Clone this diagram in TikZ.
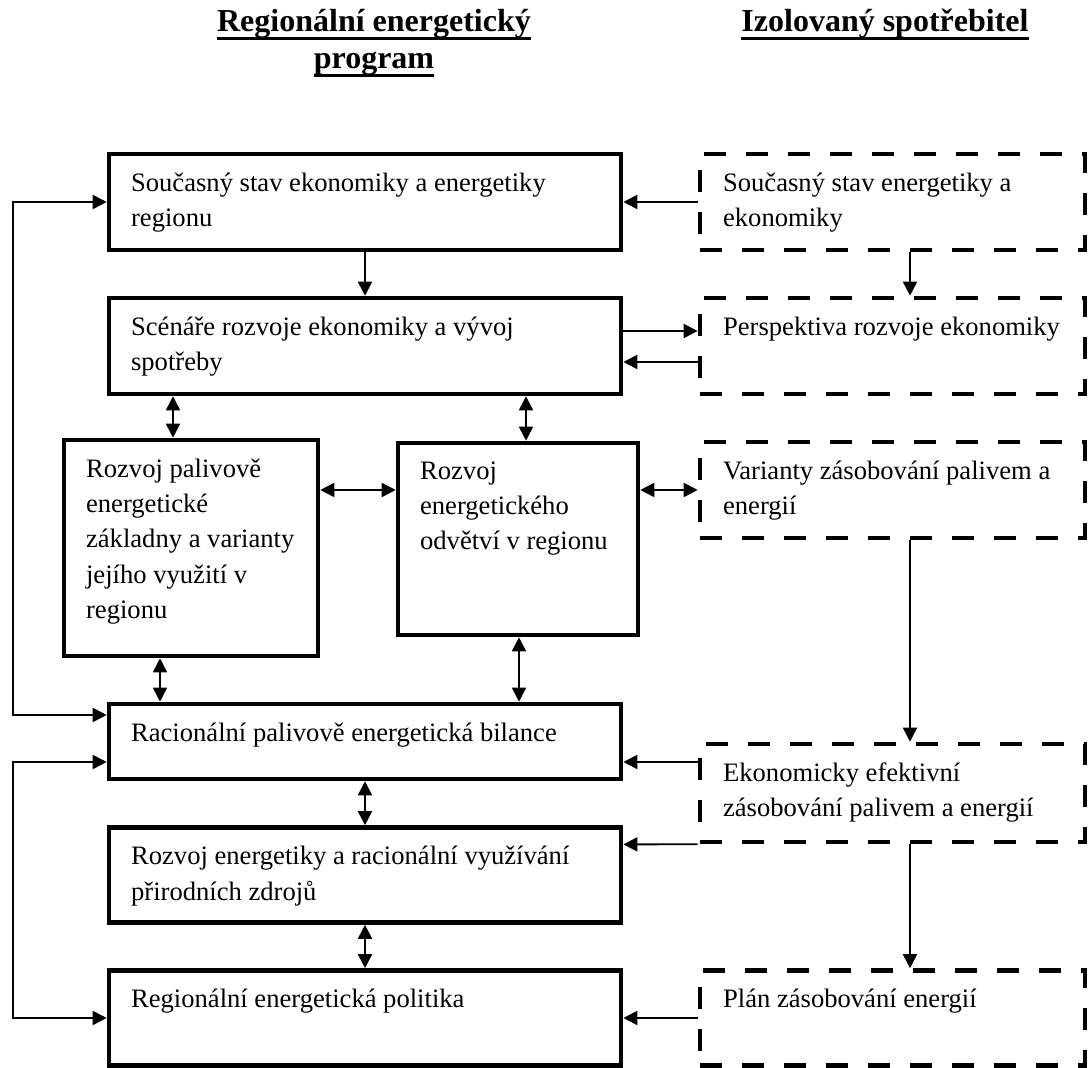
\documentclass[tikz,border=0pt]{standalone}
\usepackage{fontspec}
\setmainfont{Liberation Serif}
\usepackage{tikz}
\usetikzlibrary{positioning,calc,arrows.meta}
\tikzset{
  basic/.style  = {draw, inner sep=0pt, line width=2.3pt},
  lbox/.style   = {basic},
  rbox/.style   = {basic, dash pattern=on 11pt off 10pt},
  txt/.style    = {inner sep=0pt, align=flush left,
                   font=\fontsize{13.3pt}{17.6pt}\selectfont},
  head/.style   = {inner sep=0pt, anchor=base,
                   font=\fontsize{16pt}{19pt}\selectfont\bfseries},
  tip/.style    = {>={Triangle[length=7pt,width=7pt]}},
  edge/.style   = {->, tip, line width=0.9pt},
  edges/.style  = {<->, tip, line width=0.9pt}
}
\newcommand{\hd}[1]{\setbox0=\hbox{#1}\makebox[0pt][l]{\rule[-4pt]{\wd0}{1.5pt}}\box0}

\begin{document}
\begin{tikzpicture}[x=0.5pt, y=-0.5pt]
  \useasboundingbox (0,0) rectangle (1088,1068);
  \node[head] (hreg) at (374,32) {\hd{Regionální energetický}};
  \node[head] (hprog) at (374,69) {\hd{program}};
  \node[head] (hizo) at (885,32) {\hd{Izolovaný spotřebitel}};

  \node[lbox, minimum width=256pt, minimum height=48pt] (stav) at (365,202) {};
  \node[lbox, minimum width=256pt, minimum height=48pt] (scen) at (365,346) {};
  \node[lbox, minimum width=127pt, minimum height=108pt] (palivo) at (191,548) {};
  \node[lbox, minimum width=120pt, minimum height=96pt] (odvetvi) at (518,539) {};
  \node[lbox, minimum width=256pt, minimum height=37.5pt] (bilance) at (365,741.5) {};
  \node[lbox, minimum width=256pt, minimum height=47.5pt] (rozvoj) at (365,875) {};
  \node[lbox, minimum width=256pt, minimum height=47.5pt] (politika) at (365,1018) {};

  \node[rbox, minimum width=192.5pt, minimum height=48pt] (istav) at (892.5,202) {};
  \node[rbox, minimum width=192.5pt, minimum height=48pt] (persp) at (892.5,346) {};
  \node[rbox, minimum width=192.5pt, minimum height=48pt] (varianty) at (892.5,490) {};
  \node[rbox, minimum width=192.5pt, minimum height=49pt] (efekt) at (892.5,793) {};
  \node[rbox, minimum width=192.5pt, minimum height=47.5pt] (plan) at (892.5,1018) {};

  \node[txt, text width=225pt, below right=10.4pt and 12pt of stav.north west] (stav-t)
    {Současný stav ekonomiky a energetiky regionu};
  \node[txt, text width=225pt, below right=10.4pt and 12pt of scen.north west] (scen-t)
    {Scénáře rozvoje ekonomiky a vývoj spotřeby};
  \node[txt, text width=110pt, below right=10.4pt and 12pt of palivo.north west] (palivo-t)
    {Rozvoj palivově energetické základny a varianty jejího využití v regionu};
  \node[txt, text width=100pt, below right=10.4pt and 12pt of odvetvi.north west] (odvetvi-t)
    {Rozvoj energetického odvětví v regionu};
  \node[txt, text width=225pt, below right=10.4pt and 12pt of bilance.north west] (bilance-t)
    {Racionální palivově energetická bilance};
  \node[txt, text width=225pt, below right=10.4pt and 12pt of rozvoj.north west] (rozvoj-t)
    {Rozvoj energetiky a racionální využívání přirodních zdrojů};
  \node[txt, text width=225pt, below right=10.4pt and 12pt of politika.north west] (politika-t)
    {Regionální energetická politika};

  \node[txt, text width=174pt, below right=10.4pt and 12.5pt of istav.north west] (istav-t)
    {Současný stav energetiky a ekonomiky};
  \node[txt, text width=174pt, below right=10.4pt and 12.5pt of persp.north west] (persp-t)
    {Perspektiva rozvoje ekonomiky};
  \node[txt, text width=174pt, below right=10.4pt and 12.5pt of varianty.north west] (varianty-t)
    {Varianty zásobování palivem a energií};
  \node[txt, text width=174pt, below right=10.4pt and 12.5pt of efekt.north west] (efekt-t)
    {Ekonomicky efektivní zásobování palivem a energií};
  \node[txt, text width=174pt, below right=10.4pt and 12.5pt of plan.north west] (plan-t)
    {Plán zásobování energií};

  \coordinate (loop) at (13,0);

  \draw[edge] (istav) -- (stav);
  \draw[edge] (stav) -- (scen);
  \draw[edge] ([xshift=8.75pt]istav.south) -- ([xshift=8.75pt]persp.north);
  \draw[edge] ([yshift=7.5pt]scen.east) -- ([yshift=7.5pt]persp.west);
  \draw[edge] ([yshift=-8pt]persp.west) -- ([yshift=-8pt]scen.east);
  \draw[edges] ([xshift=-96pt]scen.south) -- ([xshift=-9pt]palivo.north);
  \draw[edges] ([xshift=80.5pt]scen.south) -- ([xshift=4pt]odvetvi.north);
  \draw[edges] ([yshift=29pt]palivo.east) -- ([yshift=24.5pt]odvetvi.west);
  \draw[edges] ([yshift=24.5pt]odvetvi.east) -- (varianty.west);
  \draw[edge] ([xshift=8.75pt]varianty.south) -- ([xshift=8.75pt]efekt.north);
  \draw[edges] ([xshift=-15.5pt]palivo.south) -- ([xshift=-102.5pt]bilance.north);
  \draw[edges] ([xshift=0.5pt]odvetvi.south) -- ([xshift=77pt]bilance.north);
  \draw[edge] ([yshift=15.5pt]efekt.west) -- ([yshift=-10.25pt]bilance.east);
  \draw[edge] (efekt.south west) -- ([yshift=15.3pt]rozvoj.east);
  \draw[edge] ([xshift=8.75pt]efekt.south) -- ([xshift=8.75pt]plan.north);
  \draw[edge] (plan) -- (politika);
  \draw[edges] (bilance) -- (rozvoj);
  \draw[edges] (rozvoj) -- (politika);
  \draw[edges] (stav.west) -- (stav.west -| loop) |- ([yshift=13.25pt]bilance.west);
  \draw[edges] (politika.west) -- (politika.west -| loop) |- ([yshift=-10.25pt]bilance.west);
\end{tikzpicture}
\end{document}
